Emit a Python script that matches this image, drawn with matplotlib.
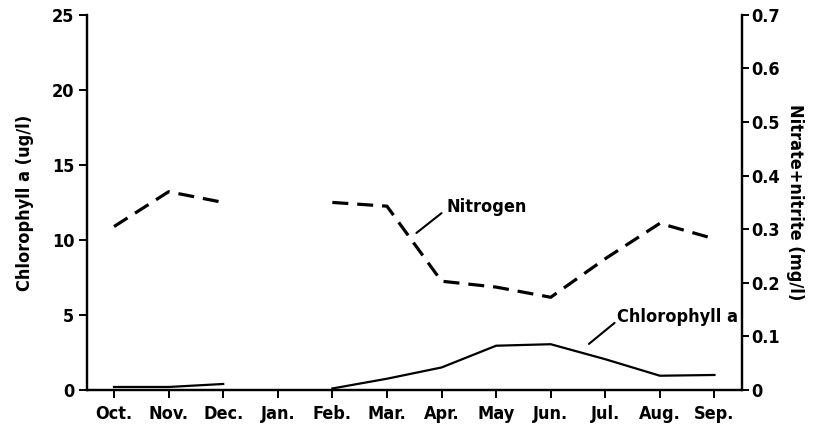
import numpy as np
import matplotlib
matplotlib.use("Agg")
import matplotlib.pyplot as plt
from matplotlib import font_manager

months = ["Oct.", "Nov.", "Dec.", "Jan.", "Feb.", "Mar.", "Apr.",
          "May", "Jun.", "Jul.", "Aug.", "Sep."]
# January was not sampled, so both series have a gap there
chlorophyll = [0.2, 0.2, 0.4, np.nan, 0.1, 0.75, 1.5, 2.95, 3.05, 2.05, 0.95, 1.0]
nitrogen = [0.305, 0.370, 0.350, np.nan, 0.350, 0.343, 0.203, 0.192, 0.173,
            0.245, 0.311, 0.282]

chl_ticks = [0, 5, 10, 15, 20, 25]
n_ticks = [0, 0.1, 0.2, 0.3, 0.4, 0.5, 0.6, 0.7]
n_labels = ["0", "0.1", "0.2", "0.3", "0.4", "0.5", "0.6", "0.7"]

# look for a narrow face; the default one is much too wide here
narrow = [f for f in font_manager.fontManager.ttflist
          if "narrow" in f.fname.lower() or "condensed" in f.fname.lower()]
narrow.sort(key=lambda f: (f.weight not in ("bold", 700), f.style != "normal"))
if narrow:
    plt.rcParams["font.family"] = [narrow[0].name, "DejaVu Sans"]
    plt.rcParams["font.stretch"] = narrow[0].stretch
    size = 13
else:
    plt.rcParams["font.family"] = ["DejaVu Sans"]
    size = 11.5
plt.rcParams["font.weight"] = "bold"
plt.rcParams["axes.labelweight"] = "bold"
plt.rcParams["font.size"] = size

fig = plt.figure(figsize=(8.26, 4.25), dpi=100)
ax = fig.add_axes([0.105, 0.0824, 0.793, 0.8826])
ax2 = ax.twinx()

x = np.arange(len(months))
ax.plot(x, chlorophyll, color="black", lw=1.6)
ln, = ax2.plot(x, nitrogen, color="black", lw=2.3)
ln.set_dashes((5, 2.8))

ax.set_xlim(-0.5, 11.5)
ax.set_ylim(0, 25)
ax2.set_ylim(0, 0.7)

ax.set_xticks(x)
ax.set_xticklabels(months)
ax.set_yticks(chl_ticks)
ax2.set_yticks(n_ticks)
ax2.set_yticklabels(n_labels)

for a in (ax, ax2):
    a.spines["top"].set_visible(False)
    for s in ("left", "right", "bottom"):
        a.spines[s].set_linewidth(1.6)
    a.tick_params(width=1.4, length=6, direction="out", pad=3)
ax.tick_params(axis="x", pad=5)
ax2.tick_params(axis="y", length=5, pad=1.5)

ax.set_ylabel("Chlorophyll a (ug/l)", labelpad=13)
ax2.set_ylabel("Nitrate+nitrite (mg/l)", rotation=-90, va="center", ha="center")
ax2.yaxis.set_label_coords(1.082, 0.5)

# series names with short leader lines
leader = dict(arrowstyle="-", color="black", lw=1.5, shrinkA=0, shrinkB=0)
ax2.annotate("", xy=(5.54, 0.293), xytext=(6.0, 0.330), arrowprops=leader)
ax2.text(6.09, 0.342, "Nitrogen", ha="left", va="center")
ax.annotate("", xy=(8.70, 3.07), xytext=(9.17, 4.47), arrowprops=leader)
ax.text(9.22, 4.87, "Chlorophyll a", ha="left", va="center")

fig.savefig("out.png", dpi=100)
